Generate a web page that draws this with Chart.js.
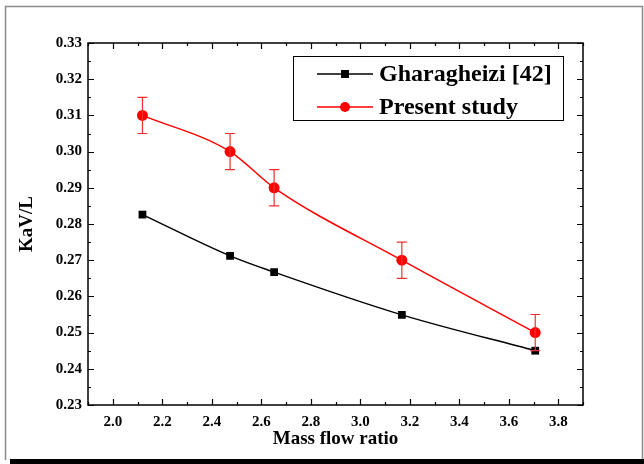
<!DOCTYPE html>
<html>
<head>
<meta charset="utf-8">
<script src="https://cdn.jsdelivr.net/npm/chart.js@4"></script>
<style>
  body { margin: 0; background: #fff; }
  canvas { display: block; }
</style>
</head>
<body>
<canvas id="chart" width="644" height="464"></canvas>
<script>
// values
const massFlow = [2.12, 2.474, 2.652, 3.168, 3.707];
const gharagheizi = [0.2826, 0.2712, 0.2667, 0.2549, 0.245];
const present = [0.310, 0.300, 0.290, 0.270, 0.250];
const presentErr = [0.005, 0.005, 0.005, 0.005, 0.005];
const xTicks = [2.0, 2.2, 2.4, 2.6, 2.8, 3.0, 3.2, 3.4, 3.6, 3.8];
const yTicks = [0.23, 0.24, 0.25, 0.26, 0.27, 0.28, 0.29, 0.30, 0.31, 0.32, 0.33];

const serif = "'Liberation Serif', 'Times New Roman', serif";

// frame, axis box, inward ticks, error bars, legend
const decor = {
    id: 'decor',
    beforeDraw(chart) {
        const c = chart.ctx;
        c.save();
        c.strokeStyle = '#8a8a8a';
        c.lineWidth = 1.5;
        c.beginPath();
        c.moveTo(5.5, 460);
        c.lineTo(5.5, 6.5);
        c.lineTo(642.5, 6.5);
        c.lineTo(642.5, 460);
        c.stroke();
        c.fillStyle = '#000';
        c.fillRect(10, 459, 634, 5);
        c.restore();
    },
    afterDatasetsDraw(chart) {
        const c = chart.ctx;
        const x = chart.scales.x, y = chart.scales.y;
        c.save();
        // error bars
        c.strokeStyle = '#f03030';
        c.lineWidth = 1.2;
        massFlow.forEach((m, i) => {
            const px = x.getPixelForValue(m);
            const top = y.getPixelForValue(present[i] + presentErr[i]);
            const bot = y.getPixelForValue(present[i] - presentErr[i]);
            c.beginPath();
            c.moveTo(px, top); c.lineTo(px, bot);
            c.moveTo(px - 5, top); c.lineTo(px + 5, top);
            c.moveTo(px - 5, bot); c.lineTo(px + 5, bot);
            c.stroke();
        });
        c.restore();
    },
    afterDraw(chart) {
        const c = chart.ctx;
        const x = chart.scales.x, y = chart.scales.y;
        const a = chart.chartArea;
        c.save();
        c.strokeStyle = '#000';
        c.lineWidth = 1.5;
        c.strokeRect(a.left, a.top, a.right - a.left, a.bottom - a.top);
        c.lineWidth = 1.2;
        c.beginPath();
        for (let k = 19; k <= 39; k++) {
            const v = k / 10;
            const len = k % 2 === 0 ? 6 : 3;
            const px = Math.round(x.getPixelForValue(v)) + 0.5;
            c.moveTo(px, a.bottom); c.lineTo(px, a.bottom - len);
            c.moveTo(px, a.top); c.lineTo(px, a.top + len);
        }
        for (let k = 46; k <= 66; k++) {
            const v = k / 200;
            const len = k % 2 === 0 ? 6 : 3;
            const py = Math.round(y.getPixelForValue(v)) + 0.5;
            c.moveTo(a.left, py); c.lineTo(a.left + len, py);
            c.moveTo(a.right, py); c.lineTo(a.right - len, py);
        }
        c.stroke();

        // legend
        const L = 293, T = 56, R = 563, B = 120;
        c.fillStyle = '#fff';
        c.fillRect(L, T, R - L, B - T);
        c.lineWidth = 1;
        c.strokeRect(L + 0.5, T + 0.5, R - L, B - T);
        const rows = [
            { y: 74, color: '#000', label: 'Gharagheizi [42]', square: true },
            { y: 107, color: '#ff0000', label: 'Present study', square: false }
        ];
        rows.forEach(r => {
            c.strokeStyle = r.color;
            c.fillStyle = r.color;
            c.lineWidth = 1.5;
            c.beginPath();
            c.moveTo(317, r.y); c.lineTo(373, r.y);
            c.stroke();
            if (r.square) {
                c.fillRect(341, r.y - 4, 8, 8);
            } else {
                c.beginPath();
                c.arc(345, r.y, 5, 0, Math.PI * 2);
                c.fill();
            }
            c.fillStyle = '#000';
            c.font = 'bold 24px ' + serif;
            c.textBaseline = 'middle';
            c.textAlign = 'left';
            c.fillText(r.label, 379, r.y + 1);
        });
        c.restore();
    }
};

new Chart(document.getElementById('chart'), {
    type: 'scatter',
    data: {
        datasets: [
            {
                label: 'Gharagheizi [42]',
                data: massFlow.map((m, i) => ({ x: m, y: gharagheizi[i] })),
                showLine: true,
                borderColor: '#000',
                backgroundColor: '#000',
                borderWidth: 1.5,
                pointStyle: 'rect',
                pointRadius: 5.5,
                pointBorderWidth: 0,
                cubicInterpolationMode: 'monotone'
            },
            {
                label: 'Present study',
                data: massFlow.map((m, i) => ({ x: m, y: present[i] })),
                showLine: true,
                borderColor: '#ff0000',
                backgroundColor: '#ff0000',
                borderWidth: 1.5,
                pointStyle: 'circle',
                pointRadius: 5.5,
                pointBorderWidth: 0,
                cubicInterpolationMode: 'monotone'
            }
        ]
    },
    options: {
        responsive: false,
        animation: false,
        layout: { padding: { left: 0, right: 61, top: 43, bottom: 0 } },
        plugins: {
            legend: { display: false },
            tooltip: { enabled: false }
        },
        scales: {
            x: {
                type: 'linear',
                min: 1.9,
                max: 3.9,
                afterBuildTicks: s => { s.ticks = xTicks.map(v => ({ value: v })); },
                afterFit: s => { s.height = 59; },
                grid: { display: false, drawTicks: false },
                border: { display: false },
                ticks: {
                    color: '#000',
                    padding: 8,
                    maxRotation: 0,
                    font: { family: serif, size: 15, weight: 'bold' },
                    callback: v => v.toFixed(1)
                },
                title: {
                    display: true,
                    text: 'Mass flow ratio',
                    color: '#000',
                    padding: { bottom: 14 },
                    font: { family: serif, size: 19, weight: 'bold' }
                }
            },
            y: {
                type: 'linear',
                min: 0.23,
                max: 0.33,
                afterBuildTicks: s => { s.ticks = yTicks.map(v => ({ value: v })); },
                afterFit: s => { s.width = 88; },
                grid: { display: false, drawTicks: false },
                border: { display: false },
                ticks: {
                    color: '#000',
                    padding: 6,
                    font: { family: serif, size: 15, weight: 'bold' },
                    callback: v => v.toFixed(2)
                },
                title: {
                    display: true,
                    text: 'KaV/L',
                    color: '#000',
                    padding: { top: 16 },
                    font: { family: serif, size: 19, weight: 'bold' }
                }
            }
        }
    },
    plugins: [decor]
});
</script>
</body>
</html>
